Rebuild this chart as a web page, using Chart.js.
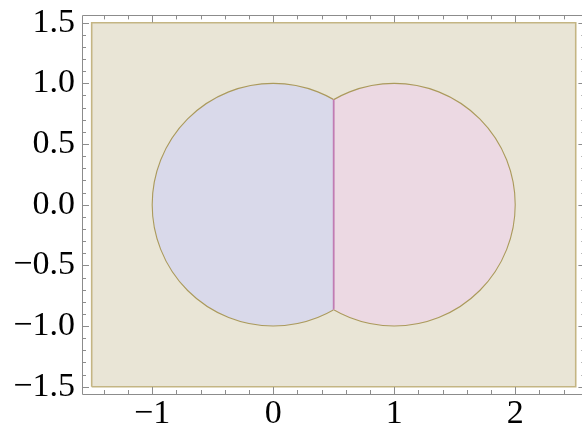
<!DOCTYPE html>
<html>
<head>
<meta charset="utf-8">
<script src="https://cdn.jsdelivr.net/npm/chart.js@4/dist/chart.umd.min.js"></script>
<style>
  html, body { margin: 0; padding: 0; background: #fff; overflow: hidden; }
  #wrap { width: 582px; height: 425px; overflow: hidden; }
  canvas { display: block; }
</style>
</head>
<body>
<div id="wrap"><canvas id="plot" width="590" height="425"></canvas></div>
<script>
// region bounds (background region)
const xBounds = [-1.5, 2.5];
const yBounds = [-1.5, 1.5];
// the two discs, split at x = 0.5
const discX = [0, 1];
const discY = [0, 0];
const discR = [1, 1];
const splitX = 0.5;
// tick labels (major) and minor tick spacing
const xMajor = [-1, 0, 1, 2];
const yMajor = [-1.5, -1.0, -0.5, 0.0, 0.5, 1.0, 1.5];
const xMinorStep = 0.2;
const yMinorStep = 0.1;

const COLORS = {
  back: "#e9e5d6",
  backLine: "#c4b583",
  left: "#d9d9ea",
  right: "#ecd9e3",
  discLine: "#ab9a5c",
  split: "#c17cb3",
  frame: "#8c8c8c"
};
const FONT = { family: "'Liberation Serif', 'Times New Roman', serif", size: 34 };

function fmt(v) {
  return v < 0 ? "\u2212" + Math.abs(v) : String(v);
}
function fmt1(v) {
  const s = Math.abs(v).toFixed(1);
  return v < -1e-9 ? "\u2212" + s : s;
}
function near(v, list) {
  return list.some(m => Math.abs(m - v) < 1e-6);
}
function tickList(lo, hi, step) {
  const out = [];
  const n = Math.round((hi - lo) / step);
  for (let i = 0; i <= n; i++) out.push({ value: Math.round((lo + i * step) * 1000) / 1000 });
  return out;
}

const backRect = [
  { x: xBounds[0], y: yBounds[0] },
  { x: xBounds[1], y: yBounds[0] },
  { x: xBounds[1], y: yBounds[1] },
  { x: xBounds[0], y: yBounds[1] },
  { x: xBounds[0], y: yBounds[0] }
];

const discs = {
  id: "discs",
  afterDatasetsDraw(chart) {
    const { ctx, scales: { x, y } } = chart;
    const sx = x.getPixelForValue(splitX);
    const fills = [COLORS.left, COLORS.right];
    const shape = i => {
      const cx = x.getPixelForValue(discX[i]);
      const cy = y.getPixelForValue(discY[i]);
      const rx = Math.abs(x.getPixelForValue(discX[i] + discR[i]) - cx);
      const ry = Math.abs(y.getPixelForValue(discY[i] + discR[i]) - cy);
      ctx.beginPath();
      ctx.ellipse(cx, cy, rx, ry, 0, 0, Math.PI * 2);
    };
    for (let i = 0; i < 2; i++) {
      ctx.save();
      ctx.beginPath();
      if (i === 0) ctx.rect(0, 0, sx, chart.height);
      else ctx.rect(sx, 0, chart.width - sx, chart.height);
      ctx.clip();
      shape(i);
      ctx.fillStyle = fills[i];
      ctx.fill();
      ctx.lineWidth = 1.1;
      ctx.strokeStyle = COLORS.discLine;
      ctx.stroke();
      ctx.restore();
    }
    // dividing edge
    ctx.save();
    shape(0);
    ctx.clip();
    ctx.beginPath();
    ctx.moveTo(sx, 0);
    ctx.lineTo(sx, chart.height);
    ctx.lineWidth = 1.8;
    ctx.strokeStyle = COLORS.split;
    ctx.stroke();
    ctx.restore();
  },
  afterDraw(chart) {
    const { ctx, chartArea: a, scales: { x, y } } = chart;
    ctx.save();
    ctx.strokeStyle = COLORS.frame;
    ctx.lineWidth = 1;
    ctx.beginPath();
    ctx.rect(Math.round(a.left) + 0.5, Math.round(a.top) + 0.5,
      Math.round(a.right - a.left), Math.round(a.bottom - a.top));
    ctx.stroke();
    ctx.beginPath();
    x.ticks.forEach(t => {
      const px = Math.round(x.getPixelForValue(t.value)) + 0.5;
      const len = near(t.value, xMajor) ? 7 : 4;
      ctx.moveTo(px, a.bottom); ctx.lineTo(px, a.bottom - len);
      ctx.moveTo(px, a.top); ctx.lineTo(px, a.top + len);
    });
    y.ticks.forEach(t => {
      const py = Math.round(y.getPixelForValue(t.value)) + 0.5;
      const len = near(t.value, yMajor) ? 7 : 4;
      ctx.moveTo(a.left, py); ctx.lineTo(a.left + len, py);
      ctx.moveTo(a.right, py); ctx.lineTo(a.right - len, py);
    });
    ctx.stroke();
    ctx.restore();
  }
};

new Chart(document.getElementById("plot"), {
  type: "scatter",
  data: {
    datasets: [{
      type: "line",
      data: backRect,
      showLine: true,
      fill: "shape",
      backgroundColor: COLORS.back,
      borderColor: COLORS.backLine,
      borderWidth: 1.6,
      pointRadius: 0,
      tension: 0
    }]
  },
  options: {
    responsive: false,
    animation: false,
    devicePixelRatio: 1,
    layout: { padding: { top: 15.4, right: 4.6, left: 0, bottom: 0 } },
    plugins: { legend: { display: false }, tooltip: { enabled: false } },
    scales: {
      x: {
        type: "linear",
        min: -1.58,
        max: 2.58,
        grid: { display: false, drawTicks: false },
        border: { display: false },
        ticks: {
          autoSkip: false,
          maxRotation: 0,
          padding: 0,
          color: "#000",
          font: FONT,
          callback: v => near(v, xMajor) ? fmt(Math.round(v)) : ""
        },
        afterBuildTicks: s => { s.ticks = tickList(-1.4, 2.4, xMinorStep); },
        afterFit: s => { s.height = 31; s.paddingLeft = 0; s.paddingRight = 0; }
      },
      y: {
        type: "linear",
        min: -1.56,
        max: 1.56,
        grid: { display: false, drawTicks: false },
        border: { display: false },
        ticks: {
          autoSkip: false,
          padding: 7,
          color: "#000",
          font: FONT,
          callback: v => near(v, yMajor) ? fmt1(v) : ""
        },
        afterBuildTicks: s => { s.ticks = tickList(yBounds[0], yBounds[1], yMinorStep); },
        afterFit: s => { s.width = 82; s.paddingTop = 0; s.paddingBottom = 0; }
      }
    }
  },
  plugins: [discs]
});
</script>
</body>
</html>
